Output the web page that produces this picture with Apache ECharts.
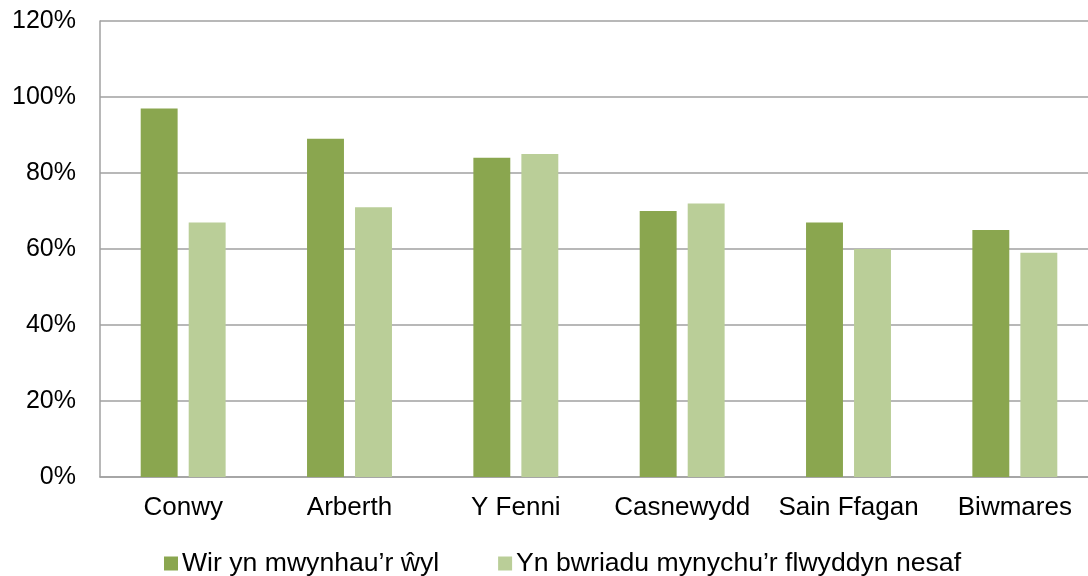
<!DOCTYPE html>
<html><head><meta charset="utf-8">
<script src="https://cdn.jsdelivr.net/npm/echarts@6/dist/echarts.min.js"></script>
<style>html,body{margin:0;padding:0;background:#fff;overflow:hidden}#c{width:1098px;height:576px}</style>
</head><body><div id="c"></div>
<script>
const categories = ['Conwy','Arberth','Y Fenni','Casnewydd','Sain Ffagan','Biwmares'];
const seriesNames = ['Wir yn mwynhau\u2019r \u0175yl','Yn bwriadu mynychu\u2019r flwyddyn nesaf'];
const enjoyed = [97, 89, 84, 70, 67, 65];
const intendNextYear = [67, 71, 85, 72, 60, 59];
const yTicks = [0,20,40,60,80,100,120];
const font = 'Liberation Sans, Arial, sans-serif';
const chart = echarts.init(document.getElementById('c'));
chart.setOption({
  animation:false,
  backgroundColor:'#fff',
  grid:{left:100,right:0,top:21,bottom:99,containLabel:false},
  legend:{
    top:550, left:164, padding:0, itemWidth:14, itemHeight:14, itemGap:59,
    icon:'rect',
    textStyle:{fontFamily:font,fontSize:26.6,color:'#000',padding:[0,0,0,-1]},
    data:seriesNames
  },
  xAxis:{
    type:'category', data:categories,
    axisLine:{lineStyle:{color:'#A0A0A0',width:1.5}},
    axisTick:{show:false},
    axisLabel:{fontFamily:font,fontSize:26,color:'#000',margin:18,interval:0}
  },
  yAxis:{
    type:'value', min:0, max:120, interval:20,
    axisLine:{show:true,lineStyle:{color:'#A0A0A0',width:1.5}},
    axisTick:{show:false},
    splitLine:{lineStyle:{color:'#A0A0A0',width:1.5}},
    axisLabel:{fontFamily:font,fontSize:25,color:'#000',margin:24,formatter:v=>v+'%'}
  },
  series:[
    {name:seriesNames[0],type:'bar',data:enjoyed,barWidth:'22.2%',barGap:'30%',itemStyle:{color:'#8AA64F'}},
    {name:seriesNames[1],type:'bar',data:intendNextYear,barWidth:'22.2%',itemStyle:{color:'#BACE98'}}
  ]
});
</script></body></html>
